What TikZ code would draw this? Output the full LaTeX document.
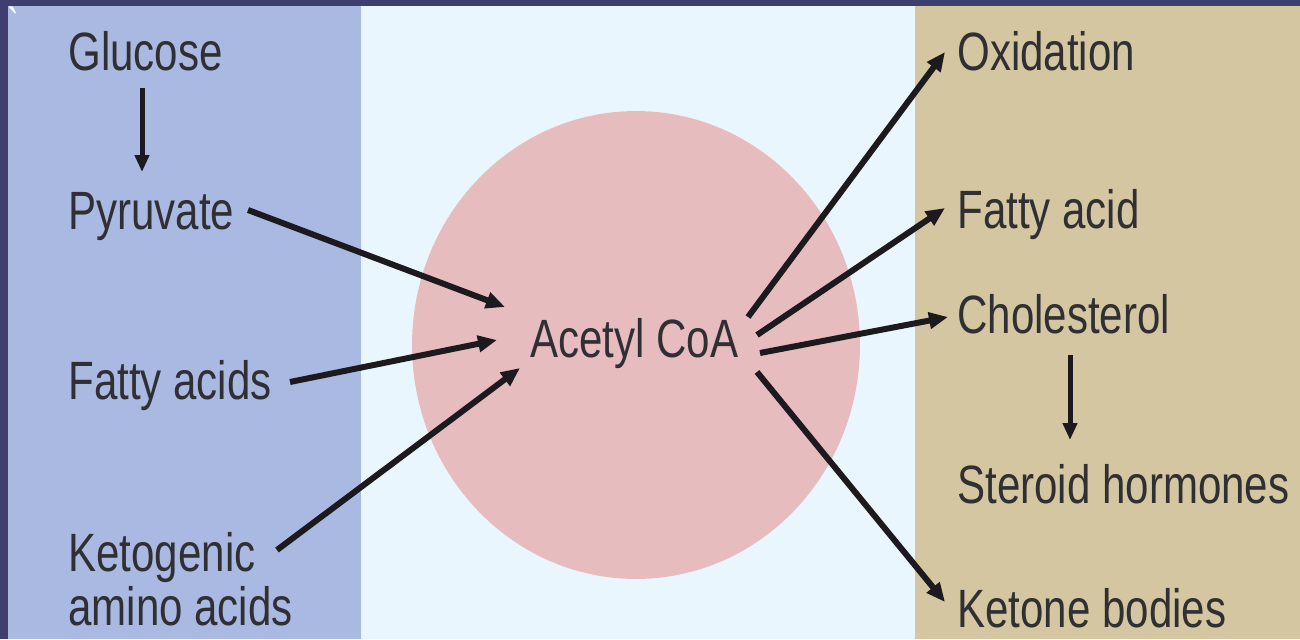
\documentclass[tikz,border=0pt]{standalone}
\usepackage{fontspec}
\setmainfont{Liberation Sans}[FakeStretch=0.78]
\usetikzlibrary{arrows.meta,calc}
\definecolor{navy}{HTML}{3E3F6E}
\definecolor{bluep}{HTML}{AAB9E2}
\definecolor{midc}{HTML}{EAF6FD}
\definecolor{tanc}{HTML}{D4C6A0}
\definecolor{pinkc}{HTML}{E7BCBE}
\definecolor{txt}{HTML}{303034}
\definecolor{arrc}{HTML}{1C1A1E}
\begin{document}
\begin{tikzpicture}[x=0.02cm,y=-0.02cm,
  lbl/.style={anchor=base west, inner sep=0pt, text=txt, font=\fontsize{30.7}{36}\selectfont},
  arr/.style={line width=0.12cm, draw=arrc, -{Triangle[length=0.38cm,width=0.32cm]}},
  varr/.style={line width=0.1cm, draw=arrc, -{Triangle[length=0.34cm,width=0.28cm]}}]
\useasboundingbox (0,0) rectangle (1300,639);
\fill[navy] (0,0) rectangle (1300,639);
\fill[bluep] (8,6) rectangle (361,639);
\fill[midc] (361,6) rectangle (915,639);
\fill[tanc] (915,6) rectangle (1300,639);
\fill[pinkc] (636,345) ellipse [x radius=4.48cm, y radius=4.68cm];
\node[text=white, inner sep=0pt, font=\fontsize{26}{26}\selectfont] (tick) at (15,24) {\textasciigrave};

\node[lbl] (glu) at (68,70) {Glucose};
\node[lbl] (pyr) at (68,229) {Pyruvate};
\node[lbl] (fa) at (68,399) {Fatty acids};
\node[lbl] (keto1) at (68,571) {Ketogenic};
\node[lbl] (keto2) at (68,625) {amino acids};
\node[lbl] (acoa) at (530,357) {Acetyl CoA};
\node[lbl] (ox) at (957,70) {Oxidation};
\node[lbl] (fac) at (957,228) {Fatty acid};
\node[lbl] (chol) at (957,333) {Cholesterol};
\node[lbl] (ster) at (957,503) {Steroid hormones};
\node[lbl] (ket) at (957,627) {Ketone bodies};

\draw[varr] ($(glu.base west)+(74,18)$) -- ($(pyr.base west)+(74,-57)$);
\draw[arr] ($(pyr.base west)+(180,-19)$) -- ($(acoa.base west)+(-25,-50)$);
\draw[arr] ($(fa.base west)+(222,-17)$) -- ($(acoa.base west)+(-33,-17)$);
\draw[arr] ($(keto1.base west)+(209,-21)$) -- ($(acoa.base west)+(-10,11)$);
\draw[arr] ($(acoa.base west)+(218,-40)$) -- ($(ox.base west)+(-12,-18)$);
\draw[arr] ($(acoa.base west)+(227,-22)$) -- ($(fac.base west)+(-12,-20)$);
\draw[arr] ($(acoa.base west)+(230,-4)$) -- ($(chol.base west)+(-9,-16)$);
\draw[arr] ($(acoa.base west)+(227,15)$) -- ($(ket.base west)+(-12,-25)$);
\draw[varr] ($(chol.base west)+(113,22)$) -- ($(ster.base west)+(113,-63)$);
\end{tikzpicture}
\end{document}
